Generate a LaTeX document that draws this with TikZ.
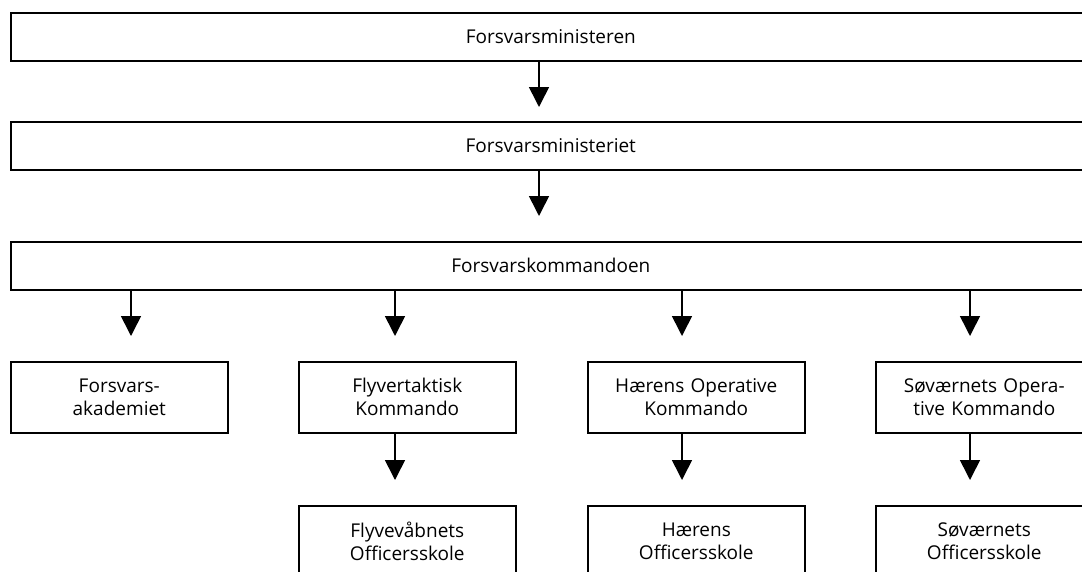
\documentclass[tikz,border=0pt]{standalone}
\usepackage{fontspec}
\setmainfont{Open Sans}
\usetikzlibrary{arrows.meta}
\tikzset{
	boks/.style = {draw, line width = 1.6pt, anchor = north west, align = center, inner sep = 0pt, font = \fontsize{19}{23}\selectfont},
	bred/.style = {boks, minimum width = 1080pt, minimum height = 48pt},
	smal/.style = {boks, text width = 217pt, minimum height = 71pt},
	pil/.style = {-{Triangle[width = 20pt, length = 20pt]}, line width = 1.6pt, shorten >= 25pt},
}
\begin{document}
\begin{tikzpicture}[x = 1pt, y = -1pt]
	\useasboundingbox (0, 0) rectangle (1082, 571);
	\clip (0, 0) rectangle (1082, 571);
	\node (minister)	at (  10,  12)	[bred]	{Forsvarsministeren};
	\node (ministeriet)	at (  10, 121)	[bred]	{Forsvarsministeriet};
	\node (kommando)	at (  10, 241)	[bred]	{Forsvarskommandoen};
	\node (akademi)		at (  10, 361)	[smal]	{Forsvars-\\akademiet};
	\node (flyver)		at ( 298, 361)	[smal]	{Flyvertaktisk\\Kommando};
	\node (haer)		at ( 587, 361)	[smal]	{Hærens Operative\\Kommando};
	\node (soe)		at ( 875, 361)	[smal]	{Søværnets Opera-\\tive Kommando};
	\node (flyskole)	at ( 298, 505)	[smal]	{Flyvevåbnets\\Officersskole};
	\node (haerskole)	at ( 587, 505)	[smal]	{Hærens\\Officersskole};
	\node (soeskole)	at ( 875, 505)	[smal]	{Søværnets\\Officersskole};
	\coordinate (m)  at (539, 0);
	\coordinate (k1) at (131, 0);
	\coordinate (k2) at (395, 0);
	\coordinate (k3) at (682, 0);
	\coordinate (k4) at (970, 0);
	\draw[pil, shorten >= 14pt] (minister.south -| m) -- (ministeriet.north -| m);
	\draw[pil] (ministeriet.south -| m) -- (kommando.north -| m);
	\draw[pil] (kommando.south -| k1) -- (akademi.north -| k1);
	\draw[pil] (kommando.south -| k2) -- (flyver.north -| k2);
	\draw[pil] (kommando.south -| k3) -- (haer.north -| k3);
	\draw[pil] (kommando.south -| k4) -- (soe.north -| k4);
	\draw[pil] (flyver.south -| k2) -- (flyskole.north -| k2);
	\draw[pil] (haer.south -| k3) -- (haerskole.north -| k3);
	\draw[pil] (soe.south -| k4) -- (soeskole.north -| k4);
\end{tikzpicture}
\end{document}
